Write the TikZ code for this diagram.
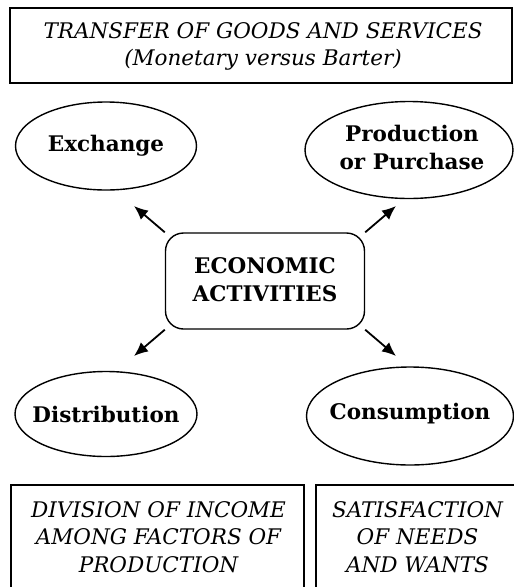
\documentclass[tikz,border=0pt]{standalone}
\usepackage{fontspec}
\setmainfont{DejaVu Serif}
\usetikzlibrary{shapes.geometric,arrows.meta}
\begin{document}
\begin{tikzpicture}[x=1pt,y=-1pt,
  oval/.style={draw, line width=1.4pt, ellipse, inner sep=0pt},
  btext/.style={align=center, inner sep=0pt, font=\bfseries\fontsize{21.5}{28}\selectfont},
  itext/.style={align=center, inner sep=0pt, font=\itshape\fontsize{21.5}{27.5}\selectfont},
  arr/.style={line width=1.8pt, -{Latex[length=14pt,width=12pt]}},
  boxline/.style={line width=1.2pt}]
\useasboundingbox (0,0) rectangle (514,587);
% top box
\node[draw, line width=1.6pt, minimum width=502pt, minimum height=75pt, inner sep=0pt] (top) at (261,45.5) {};
\node[itext] (toptext) at (263,46.5) {TRANSFER OF GOODS AND SERVICES\\(Monetary versus Barter)};
% ellipses
\node[oval, minimum width=181pt, minimum height=88pt] (exch) at (106,146) {};
\node[btext] (exchtext) at (106,146) {Exchange};
\node[oval, minimum width=208pt, minimum height=97pt] (prod) at (409,150) {};
\node[btext] (prodtext) at (412,147) {Production\\or Purchase};
\node[oval, minimum width=182pt, minimum height=85pt] (dist) at (106,414) {};
\node[btext] (disttext) at (106,414) {Distribution};
\node[oval, minimum width=207pt, minimum height=98pt] (cons) at (410,416) {};
\node[btext] (constext) at (410,414) {Consumption};
% center box
\node[draw, line width=1.4pt, rounded corners=18pt, minimum width=199pt, minimum height=96pt,
  inner sep=0pt] (eco) at (265,281) {};
\node[btext] (ecotext) at (265,280) {ECONOMIC\\ACTIVITIES};
% arrows
\coordinate (t1) at (134,206);
\coordinate (t2) at (396,206);
\coordinate (t3) at (134,356);
\coordinate (t4) at (396,356);
\draw[arr] (eco.north west) -- (t1);
\draw[arr] (eco.north east) -- (t2);
\draw[arr] (eco.south west) -- (t3);
\draw[arr] (eco.south east) -- (t4);
% bottom boxes
\coordinate (bl1) at (11,600);
\coordinate (bl2) at (11,485);
\coordinate (bl3) at (304,485);
\coordinate (bl4) at (304,600);
\draw[boxline] (bl1) -- (bl2) -- (bl3) -- (bl4);
\coordinate (br1) at (316,600);
\coordinate (br2) at (316,485);
\coordinate (br3) at (520,485);
\draw[boxline] (br1) -- (br2) -- (br3);
\node[itext] (divtext) at (158.5,537) {DIVISION OF INCOME\\AMONG FACTORS OF\\PRODUCTION};
\node[itext] (sattext) at (417.5,537) {SATISFACTION\\OF NEEDS\\AND WANTS};
\end{tikzpicture}
\end{document}
